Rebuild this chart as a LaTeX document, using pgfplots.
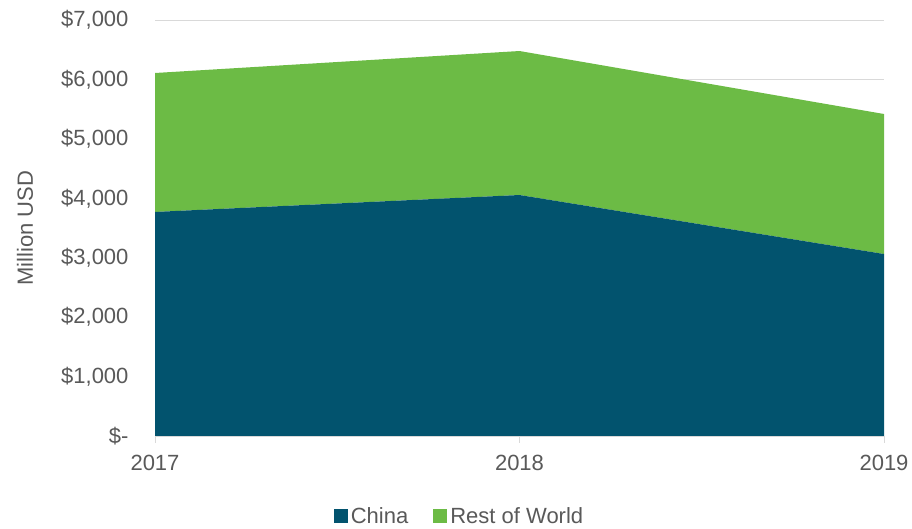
\documentclass[border=0pt]{standalone}
\usepackage{fontspec}
\setmainfont{Liberation Sans}
\usepackage{pgfplots}
\pgfplotsset{compat=1.18}
\definecolor{chinaBlue}{RGB}{2, 83, 110}
\definecolor{restGreen}{RGB}{108, 187, 69}
\definecolor{txtGray}{RGB}{89, 89, 89}
\definecolor{gridGray}{RGB}{217, 217, 217}

\begin{document}
\begin{tikzpicture}
    \begin{axis}[
        scale only axis,
        width=729pt,
        height=416pt,
        xmin=2017, xmax=2019,
        ymin=0, ymax=7000,
        stack plots=y,
        area style,
        set layers,
        axis on top=false,
        xtick={2017,2018,2019},
        xticklabels={2017,2018,2019},
        ytick={0,1000,...,7000},
        yticklabels={{\$-},{\$1,000},{\$2,000},{\$3,000},{\$4,000},{\$5,000},{\$6,000},{\$7,000}},
        ymajorgrids=true,
        grid style={gridGray, line width=0.8pt},
        axis x line*=bottom,
        axis y line*=left,
        x axis line style={gridGray, line width=0.8pt, -},
        y axis line style={draw=none},
        xtick style={gridGray, line width=0.8pt},
        ytick style={draw=none},
        major tick length=7pt,
        xtick align=outside,
        tick label style={font=\fontsize{22}{26}\selectfont, text=txtGray},
        xticklabel style={yshift=-9pt},
        yticklabel style={xshift=-23pt},
        ylabel={Million USD},
        every axis y label/.style={at={(axis cs:2017,3500)}, xshift=-130pt, rotate=90, anchor=center,
            font=\fontsize{22}{26}\selectfont, text=txtGray},
        legend style={
            at={(axis description cs:0.4129,0)},
            anchor=center,
            xshift=4pt,
            yshift=-80pt,
            draw=none,
            fill=none,
            font=\fontsize{22}{26}\selectfont,
            text=txtGray,
            legend columns=2,
            /tikz/every even column/.append style={column sep=22pt},
            legend cell align=left,
            nodes={inner xsep=3pt},
        },
        legend image code/.code={
            \fill[#1] (-3pt,-7pt) rectangle (11pt,7pt);
        },
        clip=false,
    ]

    % China
    \addplot[fill=chinaBlue, draw=none] coordinates {
        (2017, 3770)
        (2018, 4055)
        (2019, 3062)
    } \closedcycle;

    % Rest of World
    \addplot[fill=restGreen, draw=none] coordinates {
        (2017, 2338)
        (2018, 2423)
        (2019, 2356)
    } \closedcycle;

    \legend{China, Rest of World}
    \end{axis}
    \path ([xshift=-155pt,yshift=-90pt]current axis.south west) rectangle ([xshift=28pt,yshift=20pt]current axis.north east);
\end{tikzpicture}
\end{document}
